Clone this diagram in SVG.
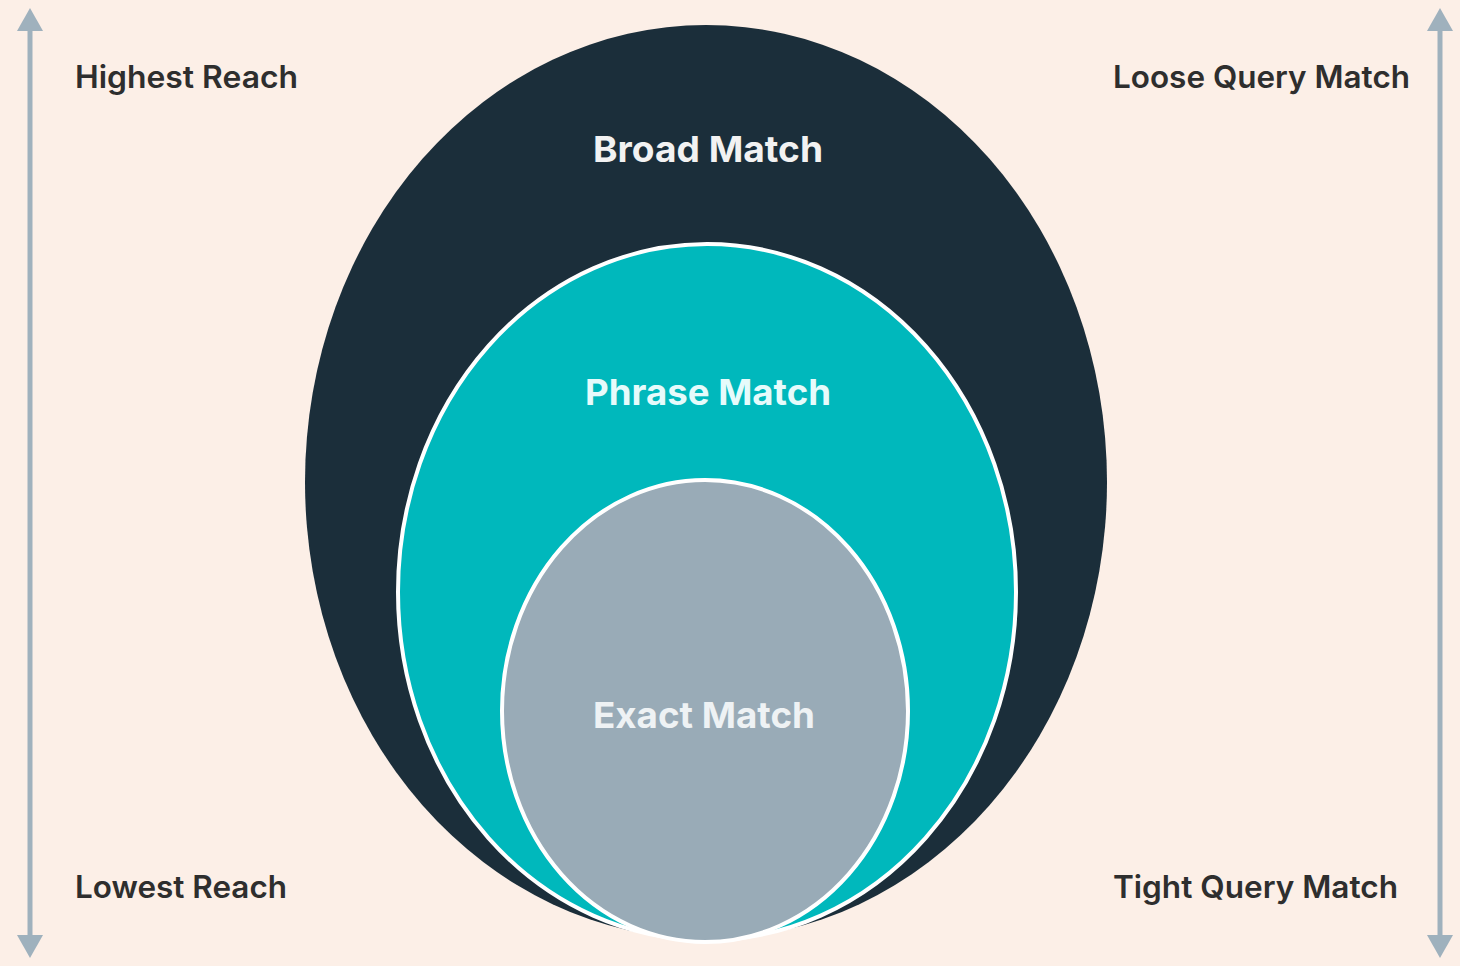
<svg xmlns="http://www.w3.org/2000/svg" width="1460" height="966" viewBox="0 0 1460 966">
<defs>
<style>
.corner{font-family:Inter,"Open Sans","Liberation Sans",sans-serif;font-weight:600;font-size:31px;fill:#2e2e2e}
.center{font-family:Inter,"Open Sans","Liberation Sans",sans-serif;font-weight:700;font-size:36px;text-anchor:middle}
.axis{stroke:#9fb1bd;stroke-width:5;fill:none}
.head{fill:#9fb1bd}
</style>
</defs>
<rect width="1460" height="966" fill="#fcefe7"/>
<g id="connectors">
<g id="left-axis">
<line class="axis" x1="30" y1="24" x2="30" y2="942"/>
<polygon class="head" points="30,8 17,31 43,31"/>
<polygon class="head" points="30,958 17,935 43,935"/>
</g>
<g id="right-axis">
<line class="axis" x1="1440" y1="24" x2="1440" y2="942"/>
<polygon class="head" points="1440,8 1427,31 1453,31"/>
<polygon class="head" points="1440,958 1427,935 1453,935"/>
</g>
</g>
<g id="broad-match">
<ellipse cx="706" cy="482" rx="401" ry="457" fill="#1b2e3a"/>
<text class="center" x="708" y="162" fill="#f2f2f2" textLength="230" lengthAdjust="spacingAndGlyphs">Broad Match</text>
</g>
<g id="phrase-match">
<ellipse cx="707" cy="592" rx="309" ry="348" fill="#00b8bc" stroke="#ffffff" stroke-width="4"/>
<text class="center" x="708" y="405" fill="#e6fbfb" textLength="246" lengthAdjust="spacingAndGlyphs">Phrase Match</text>
</g>
<g id="exact-match">
<ellipse cx="705" cy="711" rx="203" ry="231" fill="#99abb7" stroke="#ffffff" stroke-width="4"/>
<text class="center" x="704" y="728" fill="#eef2f4" textLength="222" lengthAdjust="spacingAndGlyphs">Exact Match</text>
</g>
<g id="labels">
<text class="corner" x="75" y="88" textLength="223" lengthAdjust="spacingAndGlyphs">Highest Reach</text>
<text class="corner" x="1113" y="88" textLength="297" lengthAdjust="spacingAndGlyphs">Loose Query Match</text>
<text class="corner" x="75" y="898" textLength="212" lengthAdjust="spacingAndGlyphs">Lowest Reach</text>
<text class="corner" x="1113" y="898" textLength="285" lengthAdjust="spacingAndGlyphs">Tight Query Match</text>
</g>
</svg>
